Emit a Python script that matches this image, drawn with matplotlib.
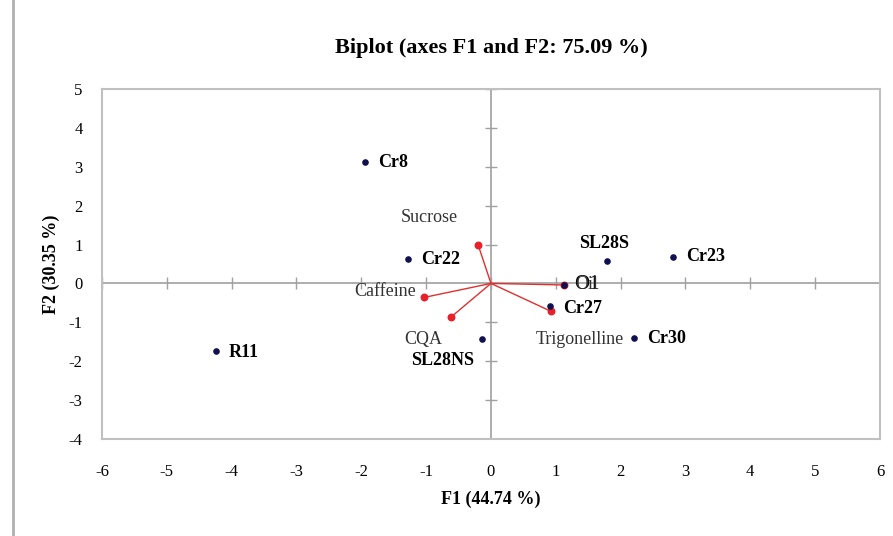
import matplotlib
matplotlib.use('Agg')

import matplotlib.pyplot as plt
import numpy as np

# Observations (F1, F2 scores)
obs_names = ["Cr8", "Cr22", "R11", "SL28S", "Cr23", "Cr27", "Cr30", "SL28NS", "O1"]
obs_f1 = [-1.94, -1.28, -4.24, 1.79, 2.81, 0.91, 2.21, -0.14, 1.13]
obs_f2 = [3.11, 0.62, -1.75, 0.57, 0.69, -0.59, -1.41, -1.44, -0.04]

# Variables (loadings)
var_names = ["Sucrose", "Caffeine", "CQA", "Trigonelline", "Oil"]
var_f1 = [-0.20, -1.03, -0.62, 0.93, 1.13]
var_f2 = [1.00, -0.36, -0.87, -0.72, -0.04]

x_ticks = np.arange(-6, 7)
y_ticks = np.arange(-4, 6)

plt.rcParams['font.family'] = ['Liberation Serif', 'DejaVu Serif']
plt.rcParams['axes.unicode_minus'] = False

fig = plt.figure(figsize=(8.93, 5.36), dpi=100)
ax = fig.add_axes([0.1142, 0.181, 0.8712, 0.653])

grey = "#a0a0a0"
ax.axhline(0, color=grey, lw=1.2, zorder=1)
ax.axvline(0, color=grey, lw=1.2, zorder=1)
# small tick crosses on the centre axes
ax.plot(x_ticks, np.zeros_like(x_ticks), ls="none", marker="|", ms=9,
        color=grey, mew=1.0, zorder=1)
ax.plot(np.zeros_like(y_ticks), y_ticks, ls="none", marker="_", ms=9,
        color=grey, mew=1.0, zorder=1)

# variable vectors
for vx, vy in zip(var_f1, var_f2):
    ax.plot([0, vx], [0, vy], color="#e03030", lw=1.0, zorder=2)
ax.scatter(var_f1, var_f2, s=22, color="#e8202a", zorder=3)

# observations
ax.scatter(obs_f1, obs_f2, s=14, color="#101050", zorder=4)

obs_offsets = {
    "Cr8": (0.2, 0.0), "Cr22": (0.2, 0.0), "R11": (0.2, -0.02),
    "SL28S": (-0.05, 0.45), "Cr23": (0.2, 0.0), "Cr27": (0.2, -0.05),
    "Cr30": (0.2, 0.0), "SL28NS": (-0.6, -0.55), "O1": (0.15, 0.02),
}
obs_ha = {"SL28S": "center", "SL28NS": "center"}
for name, x, y in zip(obs_names, obs_f1, obs_f2):
    dx, dy = obs_offsets[name]
    if name == "O1":
        ax.text(x + dx, y + dy, name, fontsize=15, color="black",
                ha="left", va="center", zorder=5)
        continue
    ax.text(x + dx, y + dy, name, fontsize=13, fontweight="bold",
            ha=obs_ha.get(name, "left"), va="center", zorder=5)

var_pos = {
    "Sucrose": (-0.95, 1.7, "center"), "Caffeine": (-1.15, -0.22, "right"),
    "CQA": (-0.75, -1.45, "right"), "Trigonelline": (2.05, -1.45, "right"),
    "Oil": (1.3, -0.04, "left"),
}
for name in var_names:
    tx, ty, ha = var_pos[name]
    ax.text(tx, ty, name, fontsize=13, color="#333333",
            ha=ha, va="center", zorder=5)

ax.set_xlim(-6, 6)
ax.set_ylim(-4, 5)
ax.set_xticks(x_ticks)
ax.set_yticks(y_ticks)
ax.tick_params(length=0, labelsize=12, pad=18)
ax.tick_params(axis="y", pad=14)
for s in ax.spines.values():
    s.set_color("#c0c0c0")
    s.set_linewidth(1.5)

ax.set_xlabel("F1 (44.74 %)", fontsize=13, fontweight="bold", labelpad=8)
ax.set_ylabel("F2 (30.35 %)", fontsize=13, fontweight="bold", labelpad=6)
ax.set_title("Biplot (axes F1 and F2: 75.09 %)", fontsize=16,
             fontweight="bold", pad=26)

# outer frame line on the left
fig.add_artist(plt.Line2D([13 / 893, 13 / 893], [0, 1], color="#b0b0b0",
                          lw=2, transform=fig.transFigure))

fig.savefig("out.png", dpi=100, facecolor="white")
plt.close(fig)
